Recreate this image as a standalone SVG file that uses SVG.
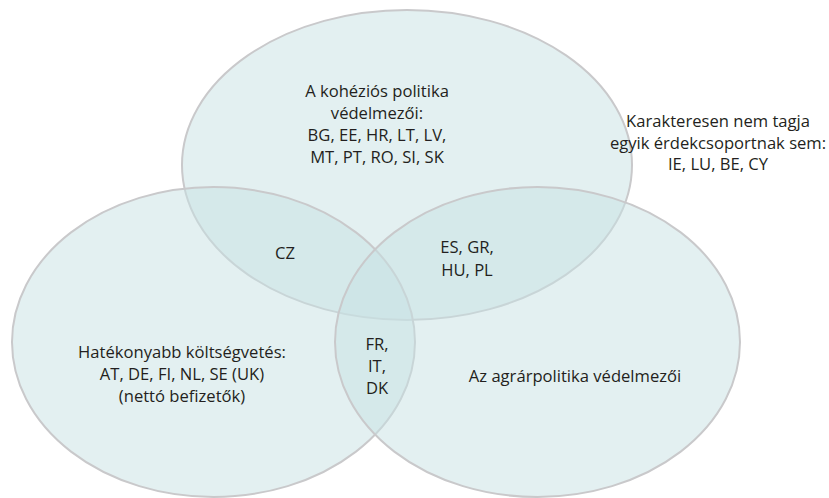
<svg xmlns="http://www.w3.org/2000/svg" width="829" height="498" viewBox="0 0 829 498">
  <style>
    .set { fill: #c7e1e3; fill-opacity: 0.5; stroke: #c9c9cb; stroke-width: 2; }
    .lbl { font-family: "Open Sans", "Noto Sans", sans-serif; font-size: 16.6px; fill: #231f20; text-anchor: middle; }
  </style>
  <rect width="829" height="498" fill="#ffffff"/>

  <!-- set circles -->
  <g id="cohesion">
    <ellipse class="set" cx="407" cy="165" rx="225" ry="155"/>
  </g>
  <g id="budget">
    <ellipse class="set" cx="213.5" cy="342" rx="201.5" ry="155"/>
  </g>
  <g id="agriculture">
    <ellipse class="set" cx="537.5" cy="342" rx="202.5" ry="155"/>
  </g>

  <!-- labels -->
  <g id="cohesion-label">
    <text class="lbl" x="377" y="97">A kohéziós politika</text>
    <text class="lbl" x="377" y="119">védelmezői:</text>
    <text class="lbl" x="377" y="141">BG, EE, HR, LT, LV,</text>
    <text class="lbl" x="377" y="163">MT, PT, RO, SI, SK</text>
  </g>
  <g id="none-label">
    <text class="lbl" x="718" y="127">Karakteresen nem tagja</text>
    <text class="lbl" x="718" y="149">egyik érdekcsoportnak sem:</text>
    <text class="lbl" x="718" y="170">IE, LU, BE, CY</text>
  </g>
  <g id="cz-label">
    <text class="lbl" x="285" y="259">CZ</text>
  </g>
  <g id="cohesion-agri-label">
    <text class="lbl" x="467" y="253">ES, GR,</text>
    <text class="lbl" x="467" y="276">HU, PL</text>
  </g>
  <g id="center-label">
    <text class="lbl" x="377" y="350">FR,</text>
    <text class="lbl" x="377" y="372">IT,</text>
    <text class="lbl" x="377" y="394">DK</text>
  </g>
  <g id="budget-label">
    <text class="lbl" x="182" y="358">Hatékonyabb költségvetés:</text>
    <text class="lbl" x="182" y="380">AT, DE, FI, NL, SE (UK)</text>
    <text class="lbl" x="182" y="402">(nettó befizetők)</text>
  </g>
  <g id="agri-label">
    <text class="lbl" x="575" y="382">Az agrárpolitika védelmezői</text>
  </g>

  <g id="connectors"/>
</svg>
